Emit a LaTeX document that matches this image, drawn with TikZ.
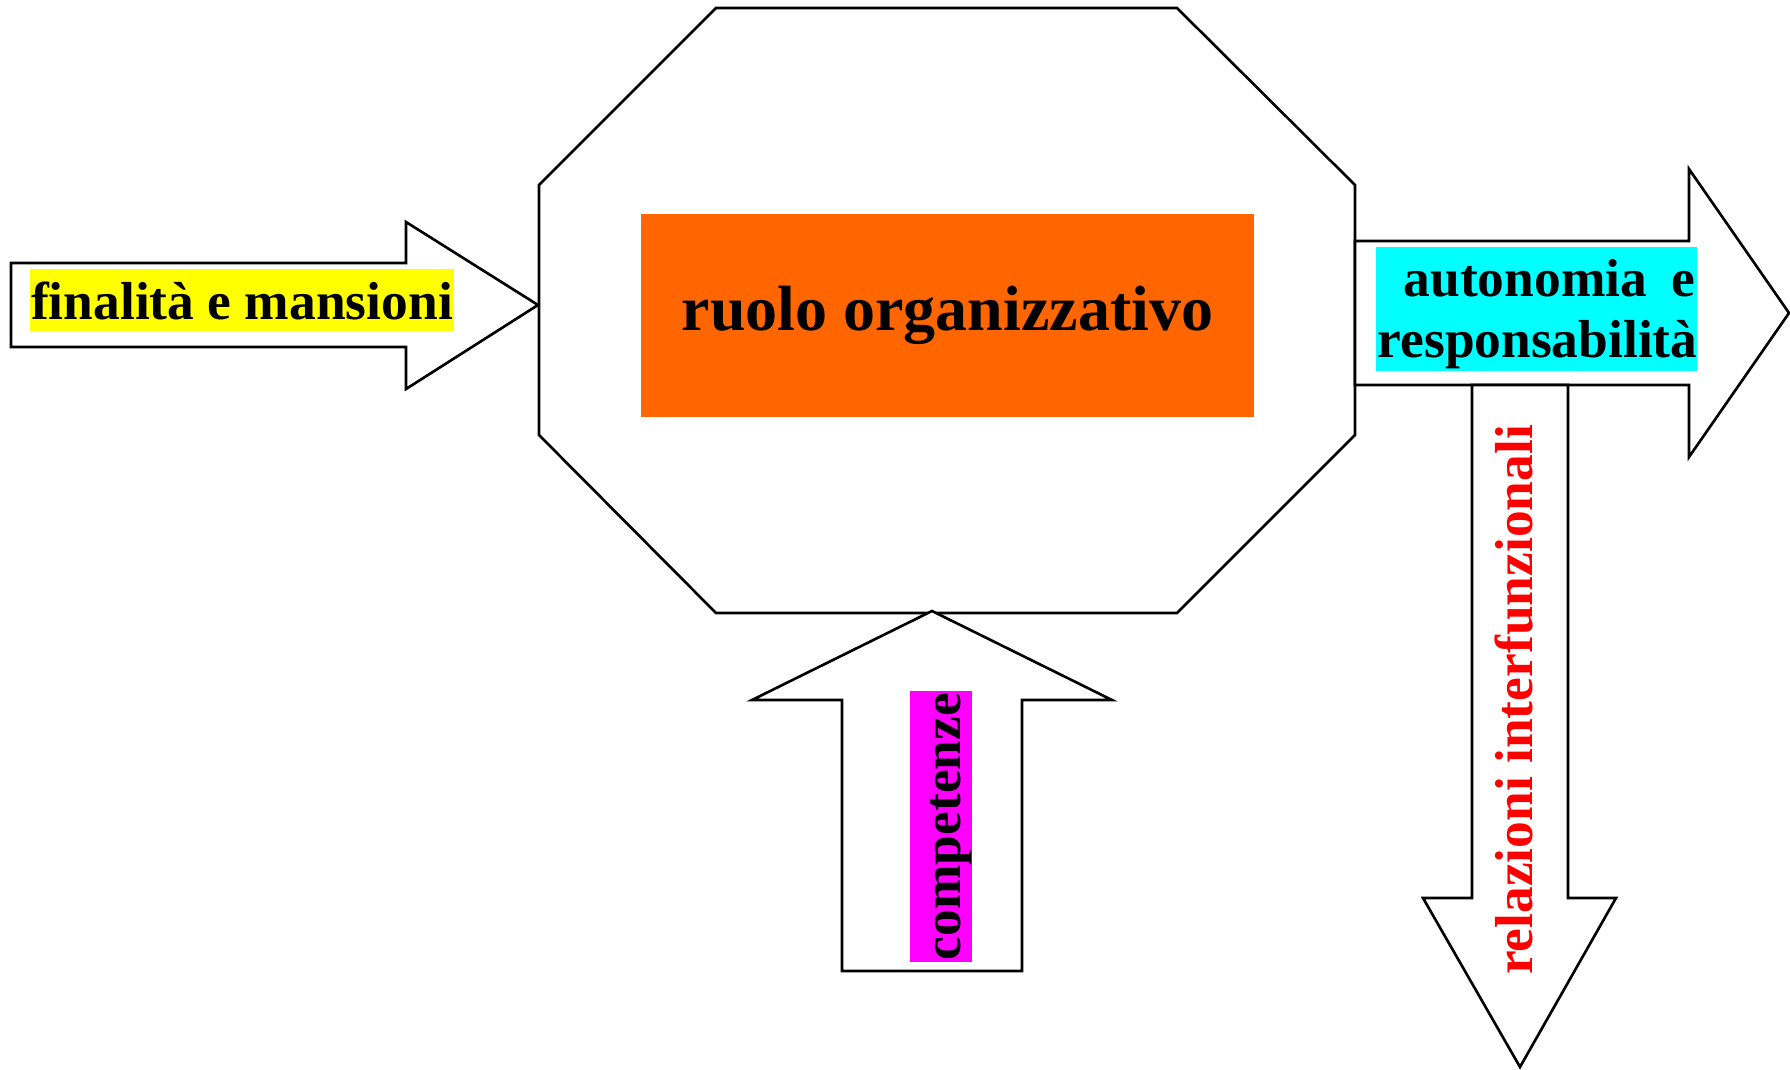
\documentclass[tikz,border=0pt]{standalone}
\usepackage{fontspec}
\setmainfont{Liberation Serif}
\usetikzlibrary{positioning}
\definecolor{arancio}{RGB}{255,102,0}
\definecolor{giallo}{RGB}{255,255,0}
\definecolor{ciano}{RGB}{0,255,255}
\definecolor{viola}{RGB}{255,0,255}
\definecolor{rosso}{RGB}{255,0,0}
\tikzstyle{blk}=[draw, fill=white, line width=0.75pt, line join=miter]
\tikzstyle{lab}=[inner sep=0pt, text height=0.5cm, text depth=0.12cm, font=\fontsize{15.2}{17.3}\selectfont\bfseries]

\begin{document}
\begin{tikzpicture}[x=0.01cm, y=-0.01cm]
	\useasboundingbox (0,0) rectangle (1790,1069);
	% ottagono
	\draw[blk] (716,8) -- (1177,8) -- (1355,185) -- (1355,435) -- (1177,613) -- (716,613) -- (539,435) -- (539,185) -- cycle;
	% frecce
	\draw[blk] (11,263) -- (406,263) -- (406,222) -- (538,305) -- (406,389) -- (406,347) -- (11,347) -- cycle;
	\draw[blk] (1355,241) -- (1689,241) -- (1689,169) -- (1789,313) -- (1689,457) -- (1689,385) -- (1355,385) -- cycle;
	\draw[blk] (1472,385) -- (1568,385) -- (1568,898) -- (1616,898) -- (1520,1067) -- (1423,898) -- (1472,898) -- cycle;
	\draw[blk] (842,971) -- (842,700) -- (752,700) -- (932,611) -- (1112,700) -- (1022,700) -- (1022,971) -- cycle;
	
	\node[minimum width=6.13cm, minimum height=2.03cm, fill=arancio, inner sep=0pt, font=\fontsize{18.2}{21}\selectfont\bfseries] (Ro) at (947.5,315.5) {ruolo organizzativo};
	\node[lab, fill=giallo, inner xsep=0.01cm, anchor=base] (Fi) at (242,319) {finalità e mansioni};
	\node[lab, fill=ciano, inner xsep=0.02cm, text width=3.17cm, align=left, text depth=0.74cm, anchor=north west] (Au) at (1375,246) {\makebox[3.17cm][s]{\hspace*{0.26cm}autonomia\hfill e}\\responsabilità};
	\node[lab, fill=viola, inner xsep=0.02cm, rotate=90, anchor=base] (Co) at (960,826.5) {competenze};
	\node[lab, text=rosso, rotate=90, anchor=base] (Re) at (1532,700) {relazioni interfunzionali};
	
\end{tikzpicture}
\end{document}
